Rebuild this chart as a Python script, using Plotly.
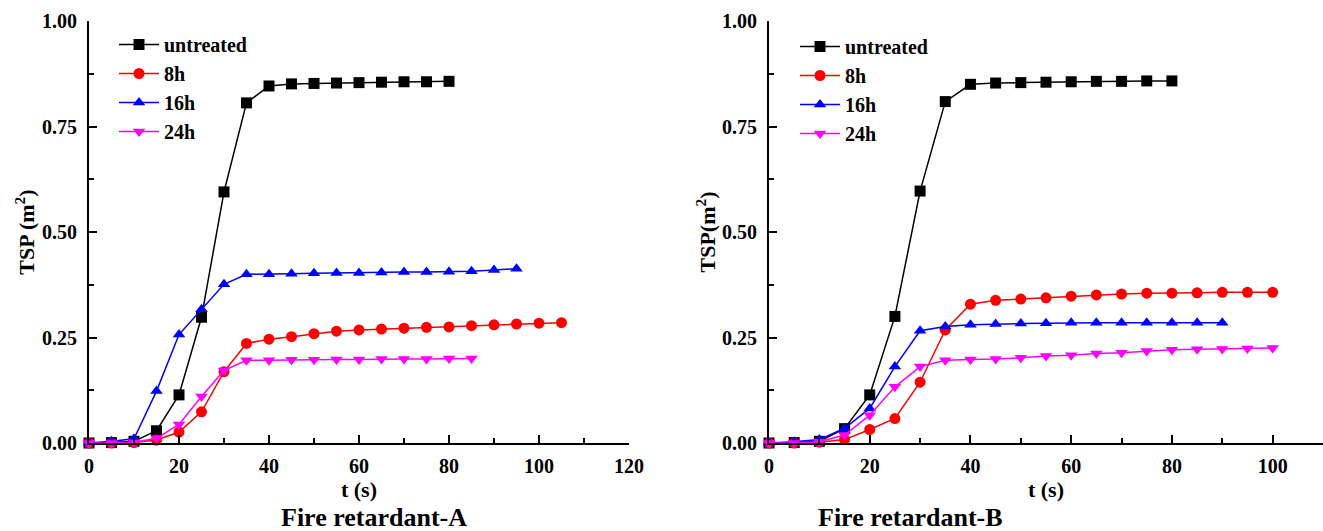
import plotly.graph_objects as go

# ---------------- data ----------------
t_untreated_A = [0, 5, 10, 15, 20, 25, 30, 35, 40, 45, 50, 55, 60, 65, 70, 75, 80]
untreated_A = [0.0, 0.001, 0.004, 0.029, 0.114, 0.298, 0.595, 0.806, 0.846, 0.851, 0.852, 0.853, 0.854, 0.855, 0.856, 0.856, 0.857]

t_8h_A = [0, 5, 10, 15, 20, 25, 30, 35, 40, 45, 50, 55, 60, 65, 70, 75, 80, 85, 90, 95, 100, 105]
h8_A = [0.0, 0.0, 0.001, 0.007, 0.026, 0.074, 0.169, 0.236, 0.246, 0.252, 0.259, 0.265, 0.268, 0.270, 0.272, 0.274, 0.275, 0.278, 0.280, 0.282, 0.284, 0.285]

t_16h_A = [0, 5, 10, 15, 20, 25, 30, 35, 40, 45, 50, 55, 60, 65, 70, 75, 80, 85, 90, 95]
h16_A = [0.0, 0.004, 0.010, 0.123, 0.257, 0.317, 0.376, 0.400, 0.400, 0.401, 0.402, 0.403, 0.403, 0.404, 0.405, 0.405, 0.406, 0.407, 0.410, 0.413]

t_24h_A = [0, 5, 10, 15, 20, 25, 30, 35, 40, 45, 50, 55, 60, 65, 70, 75, 80, 85]
h24_A = [0.0, 0.0, 0.002, 0.011, 0.044, 0.110, 0.172, 0.196, 0.196, 0.197, 0.197, 0.198, 0.198, 0.199, 0.199, 0.199, 0.200, 0.200]

t_untreated_B = [0, 5, 10, 15, 20, 25, 30, 35, 40, 45, 50, 55, 60, 65, 70, 75, 80]
untreated_B = [0.0, 0.001, 0.004, 0.034, 0.114, 0.300, 0.597, 0.809, 0.850, 0.853, 0.854, 0.855, 0.856, 0.857, 0.857, 0.858, 0.858]

t_8h_B = [0, 5, 10, 15, 20, 25, 30, 35, 40, 45, 50, 55, 60, 65, 70, 75, 80, 85, 90, 95, 100]
h8_B = [0.0, 0.0, 0.002, 0.008, 0.032, 0.058, 0.144, 0.268, 0.329, 0.338, 0.341, 0.344, 0.348, 0.351, 0.353, 0.355, 0.355, 0.356, 0.357, 0.357, 0.357]

t_16h_B = [0, 5, 10, 15, 20, 25, 30, 35, 40, 45, 50, 55, 60, 65, 70, 75, 80, 85, 90]
h16_B = [0.0, 0.003, 0.008, 0.035, 0.082, 0.181, 0.266, 0.276, 0.280, 0.282, 0.283, 0.284, 0.285, 0.285, 0.285, 0.285, 0.285, 0.285, 0.285]

t_24h_B = [0, 5, 10, 15, 20, 25, 30, 35, 40, 45, 50, 55, 60, 65, 70, 75, 80, 85, 90, 95, 100]
h24_B = [0.0, 0.0, 0.003, 0.019, 0.066, 0.133, 0.181, 0.196, 0.198, 0.199, 0.202, 0.206, 0.208, 0.212, 0.214, 0.218, 0.221, 0.222, 0.223, 0.224, 0.225]

series_names = ["untreated", "8h", "16h", "24h"]
colors = ["#000000", "#ff0000", "#0000ff", "#ff00ff"]
symbols = ["square", "circle", "triangle-up", "triangle-down"]

x_ticks_A = [0, 20, 40, 60, 80, 100, 120]
x_ticks_B = [0, 20, 40, 60, 80, 100]
y_ticks = [0.0, 0.25, 0.5, 0.75, 1.0]
y_ticklabels = ["0.00", "0.25", "0.50", "0.75", "1.00"]

# ---------------- figure ----------------
W, H = 1323, 531
FONT = "Liberation Serif"
TICK_SIZE = 20
LEG_SIZE = 20

fig = go.Figure()

panelA = [(t_untreated_A, untreated_A), (t_8h_A, h8_A), (t_16h_A, h16_A), (t_24h_A, h24_A)]
panelB = [(t_untreated_B, untreated_B), (t_8h_B, h8_B), (t_16h_B, h16_B), (t_24h_B, h24_B)]

for i, (tx, ty) in enumerate(panelA):
    fig.add_trace(go.Scatter(
        x=tx, y=ty, mode="lines+markers", name=series_names[i],
        line=dict(color=colors[i], width=1.5),
        marker=dict(symbol=symbols[i], size=11, color=colors[i]),
        cliponaxis=False, xaxis="x", yaxis="y", legend="legend"))

for i, (tx, ty) in enumerate(panelB):
    fig.add_trace(go.Scatter(
        x=tx, y=ty, mode="lines+markers", name=series_names[i],
        line=dict(color=colors[i], width=1.5),
        marker=dict(symbol=symbols[i], size=11, color=colors[i]),
        cliponaxis=False, xaxis="x2", yaxis="y2", legend="legend2"))

ydom = [1 - 443 / H, 1 - 21 / H]

axis_common = dict(
    showgrid=False, zeroline=False, showline=True, linecolor="black", linewidth=2,
    ticks="inside", ticklen=8, tickwidth=2, tickcolor="black",
    tickfont=dict(family=FONT, size=TICK_SIZE, color="black", weight="bold"),
    mirror=False, automargin=False,
)
minor_common = dict(ticks="inside", ticklen=5, tickwidth=2, tickcolor="black")
title_font = dict(family=FONT, size=22, color="black", weight="bold")

fig.update_layout(
    width=W, height=H,
    margin=dict(l=0, r=0, t=0, b=0, autoexpand=False),
    paper_bgcolor="white", plot_bgcolor="white",
    xaxis=dict(domain=[89 / W, 629 / W], range=[0, 120], anchor="y",
               tickvals=x_ticks_A, ticklabelstandoff=4,
               minor=dict(dtick=10, tick0=0, **minor_common),
               title=dict(text="t (s)", font=title_font, standoff=2),
               **axis_common),
    yaxis=dict(domain=ydom, range=[0, 1], anchor="x",
               tickvals=y_ticks, ticktext=y_ticklabels, ticklabelstandoff=6,
               minor=dict(dtick=0.125, tick0=0, **minor_common),
               title=dict(text="TSP (m<sup>2</sup>)", font=title_font, standoff=1),
               **axis_common),
    xaxis2=dict(domain=[769 / W, 1.0], range=[0, 110], anchor="y2",
                tickvals=x_ticks_B, ticklabelstandoff=4,
                minor=dict(dtick=10, tick0=0, **minor_common),
                title=dict(text="t (s)", font=title_font, standoff=2),
                **axis_common),
    yaxis2=dict(domain=ydom, range=[0, 1], anchor="x2",
                tickvals=y_ticks, ticktext=y_ticklabels, ticklabelstandoff=6,
                minor=dict(dtick=0.125, tick0=0, **minor_common),
                title=dict(text="TSP(m<sup>2</sup>)", font=title_font, standoff=0),
                **axis_common),
    legend=dict(x=114 / W, y=1 - 25 / H, xanchor="left", yanchor="top",
                bgcolor="rgba(0,0,0,0)", borderwidth=0,
                font=dict(family=FONT, size=LEG_SIZE, color="black", weight="bold"),
                tracegroupgap=0, itemwidth=40),
    legend2=dict(x=795 / W, y=1 - 27 / H, xanchor="left", yanchor="top",
                 bgcolor="rgba(0,0,0,0)", borderwidth=0,
                 font=dict(family=FONT, size=LEG_SIZE, color="black", weight="bold"),
                 tracegroupgap=0, itemwidth=40),
    annotations=[
        dict(text="Fire retardant-A", x=374 / W, y=1 - 517 / H, xref="paper", yref="paper",
             showarrow=False, xanchor="center", yanchor="middle",
             font=dict(family=FONT, size=26, color="black", weight="bold")),
        dict(text="Fire retardant-B", x=910 / W, y=1 - 517 / H, xref="paper", yref="paper",
             showarrow=False, xanchor="center", yanchor="middle",
             font=dict(family=FONT, size=26, color="black", weight="bold")),
    ],
)

fig.write_html("out.html", config={"displayModeBar": False},
               post_script="document.body.style.margin='0';document.body.style.overflow='hidden';")
